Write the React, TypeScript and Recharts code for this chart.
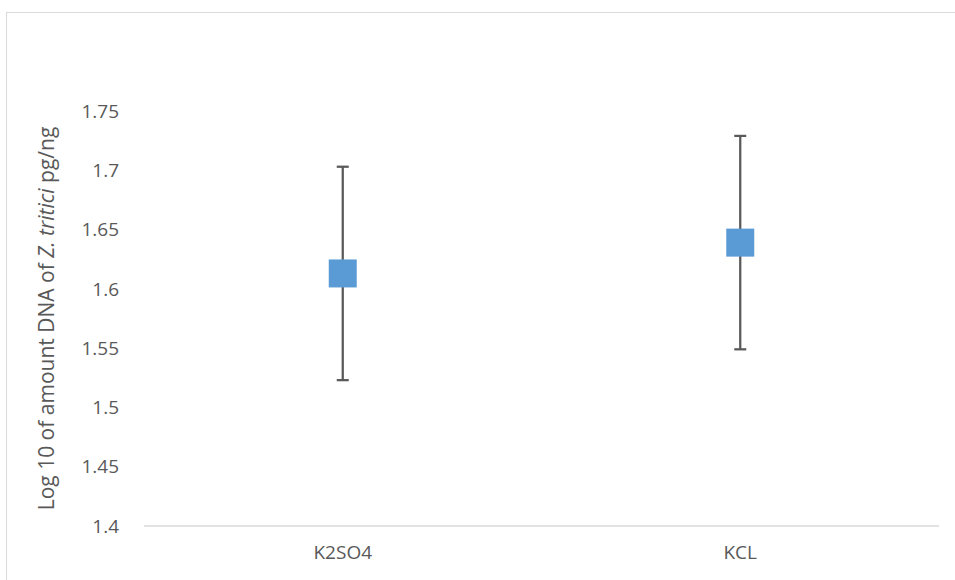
import { ErrorBar, Line, LineChart, XAxis, YAxis } from 'recharts'

const TREATMENTS = ['K2SO4', 'KCL']
const LOG_DNA = [1.613, 1.639]
const ERRORS = [0.09, 0.09]
const Y_TICKS = [1.4, 1.45, 1.5, 1.55, 1.6, 1.65, 1.7, 1.75]

const data = TREATMENTS.map((name, i) => ({ name, value: LOG_DNA[i], err: ERRORS[i] }))

const FONT = '"Open Sans", sans-serif'
const TEXT = '#595959'

function SquareDot(props: any) {
  const { cx, cy } = props
  if (cx == null || cy == null) return null
  return <rect x={cx - 14} y={cy - 14} width={28} height={28} fill="#5B9BD5" />
}

function YTitle(props: any) {
  const { viewBox } = props
  const cx = viewBox.x + 46
  const cy = viewBox.y + viewBox.height / 2
  return (
    <text
      x={cx}
      y={cy}
      transform={`rotate(-90, ${cx}, ${cy})`}
      textAnchor="middle"
      dominantBaseline="central"
      fill={TEXT}
      fontSize={21}
      fontFamily={FONT}
    >
      Log 10 of amount DNA of <tspan fontStyle="italic">Z. tritici</tspan> pg/ng
    </text>
  )
}

export default function App() {
  return (
    <div style={{ position: 'absolute', left: 0, top: 0, width: 955, height: 580, overflow: 'hidden', background: '#fff' }}>
      <div
        style={{
          position: 'absolute',
          left: 6,
          top: 12,
          width: 1000,
          height: 700,
          border: '1.5px solid #D9D9D9',
        }}
      />
      <div style={{ position: 'absolute', left: 0, top: 0 }}>
        <LineChart width={955} height={580} data={data} margin={{ top: 111, right: 16, bottom: 0, left: 0 }}>
          <XAxis
            dataKey="name"
            height={54}
            padding={{ left: 198.75, right: 198.75 }}
            axisLine={{ stroke: '#D9D9D9', strokeWidth: 1.5 }}
            tickLine={false}
            tickMargin={14}
            tick={{ fill: TEXT, fontSize: 19, fontFamily: FONT }}
          />
          <YAxis
            type="number"
            domain={[1.4, 1.75]}
            ticks={Y_TICKS}
            width={144}
            axisLine={false}
            tickLine={false}
            tickMargin={19}
            tickFormatter={(v: number) => String(v)}
            tick={{ fill: TEXT, fontSize: 19, fontFamily: FONT }}
            label={{ content: <YTitle /> }}
          />
          <Line
            dataKey="value"
            stroke="none"
            dot={<SquareDot />}
            activeDot={false}
            isAnimationActive={false}
          >
            <ErrorBar dataKey="err" width={6} stroke="#595959" strokeWidth={2.25} isAnimationActive={false} />
          </Line>
        </LineChart>
      </div>
    </div>
  )
}
